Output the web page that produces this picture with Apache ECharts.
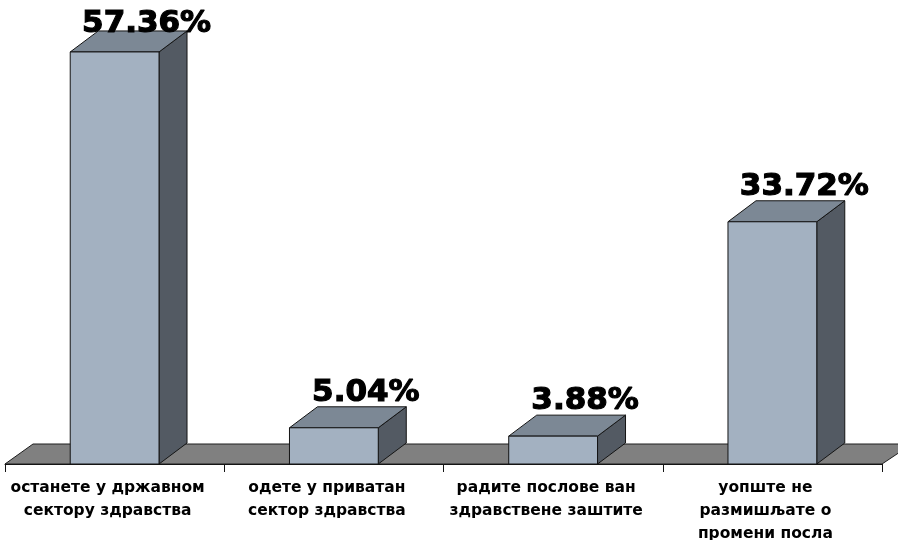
<!DOCTYPE html>
<html>
<head>
<meta charset="utf-8">
<script src="https://cdn.jsdelivr.net/npm/echarts@6/dist/echarts.min.js"></script>
<style>html,body{margin:0;padding:0;background:#fff}#c{width:898px;height:540px}</style>
</head>
<body>
<div id="c"></div>
<script>
var categories = [
  'останете у државном\nсектору здравства',
  'одете у приватан\nсектор здравства',
  'радите послове ван\nздравствене заштите',
  'уопште не\nразмишљате о\nпромени посла'
];
var values = [57.36, 5.04, 3.88, 33.72];
var valueLabels = ['57.36%', '5.04%', '3.88%', '33.72%'];

var DX = 28, DY = -21;
var FONT = 'DejaVu Sans';

var chart = echarts.init(document.getElementById('c'), null, {renderer: 'canvas'});

function renderBar(params, api) {
  var i = api.value(0);
  var v = api.value(1);
  var base = api.coord([i, 0]);
  var top = api.coord([i, v]);
  var w = api.size([1, 0])[0] * 0.405;
  var l = base[0] - w / 2, r = base[0] + w / 2;
  var yb = base[1], yt = top[1];
  var stroke = '#141414';
  var ty = Math.max(yt + DY - 14, 24);
  return {
    type: 'group',
    children: [
      {type: 'polygon', shape: {points: [[r, yb], [r + DX, yb + DY], [r + DX, yt + DY], [r, yt]]},
        style: {fill: '#535a63', stroke: stroke, lineWidth: 1}},
      {type: 'polygon', shape: {points: [[l, yt], [r, yt], [r + DX, yt + DY], [l + DX, yt + DY]]},
        style: {fill: '#7c8895', stroke: stroke, lineWidth: 1}},
      {type: 'rect', shape: {x: l, y: yt, width: w, height: yb - yt},
        style: {fill: '#a3b1c1', stroke: stroke, lineWidth: 1}},
      {type: 'text', z2: 10, style: {
        text: valueLabels[params.dataIndex], x: base[0] + DX + 4, y: ty,
        align: 'center', verticalAlign: 'middle',
        font: 'bold 31px "' + FONT + '"', fill: '#000', stroke: '#000', lineWidth: 1.2}}
    ]
  };
}

function renderFloor(params, api) {
  var cs = params.coordSys;
  var x0 = cs.x, x1 = cs.x + cs.width, y = cs.y + cs.height;
  return {
    type: 'polygon',
    shape: {points: [[x0, y], [x1, y], [x1 + 30, y - 20], [x0 + 28, y - 20]]},
    style: {fill: '#808080', stroke: '#1e1e1e', lineWidth: 1}
  };
}

chart.setOption({
  animation: false,
  backgroundColor: '#ffffff',
  grid: {left: 5, right: 16, top: 33, bottom: 76, containLabel: false, outerBoundsMode: 'none'},
  xAxis: {
    type: 'category',
    data: categories,
    boundaryGap: true,
    axisLine: {show: true, lineStyle: {color: '#141414', width: 1}},
    axisTick: {show: true, length: 8, lineStyle: {color: '#141414'}},
    axisLabel: {interval: 0, fontFamily: FONT, fontWeight: 'bold', fontSize: 15.5, color: '#000', lineHeight: 23, margin: 12,
      padding: [0, 14, 0, 0]},
    z: 1
  },
  yAxis: {type: 'value', min: 0, max: 60, show: false, splitLine: {show: false}},
  series: [
    {type: 'custom', renderItem: renderFloor, data: [[0, 0]], z: 0, silent: true, clip: false},
    {type: 'custom', renderItem: renderBar, data: values.map(function (v, i) { return [i, v]; }), z: 5, clip: false,
      encode: {x: 0, y: 1}}
  ]
});
</script>
</body>
</html>
